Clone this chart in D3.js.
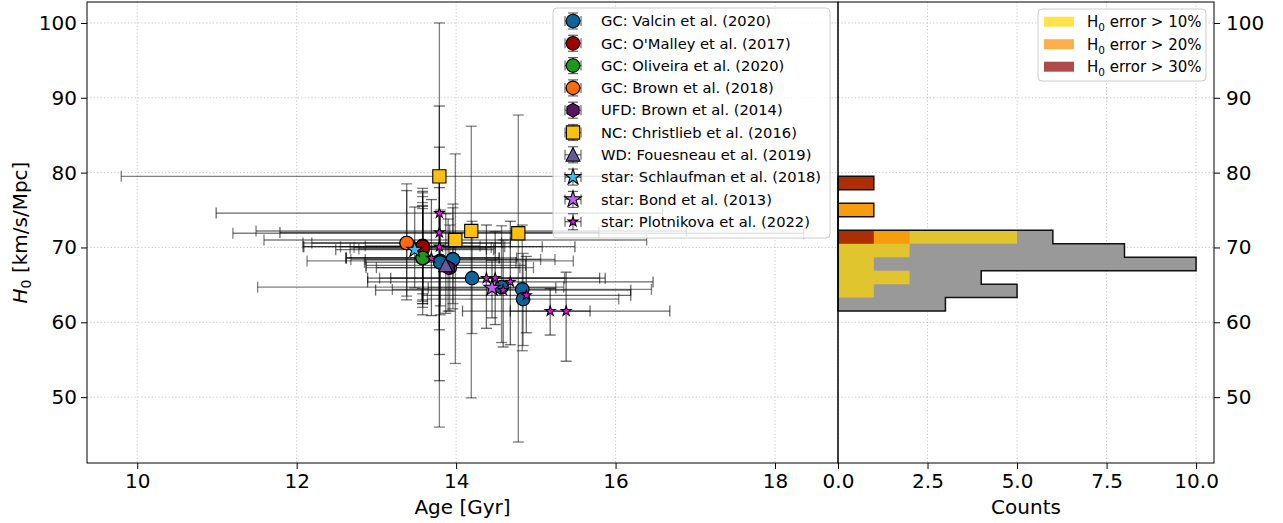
<!DOCTYPE html>
<html><head><meta charset="utf-8">
<script src="https://cdn.jsdelivr.net/npm/d3@7"></script>
<style>
body{margin:0;background:#fff;}
svg{display:block;}
text{font-family:"DejaVu Sans",sans-serif;fill:#000;}
</style>
</head><body>
<svg id="chart" width="1283" height="523"></svg>
<script>
// ---------- DATA ----------
// each row: [age (Gyr), age lower end, age upper end, H0, H0 lower end, H0 upper end]
const valcin = [
  [13.80, 12.13, 15.47, 68.2, 61.0, 75.0],
  [13.96, 12.68, 15.24, 68.4, 62.5, 75.8],
  [13.92, 12.87, 14.97, 67.3, 61.5, 73.0],
  [14.20, 13.04, 15.36, 65.9, 58.5, 73.5],
  [14.57, 11.51, 15.35, 64.7, 57.3, 72.9],
  [14.83, 13.20, 16.45, 64.4, 56.2, 73.0],
  [14.84, 13.64, 16.04, 63.1, 56.9, 69.2],
  [13.38, 12.08, 14.68, 70.6, 63.5, 78.5],
  [13.58, 12.55, 14.61, 70.1, 63.0, 76.8],
  [13.58, 12.67, 14.49, 69.9, 63.8, 76.0],
  [13.58, 12.72, 14.44, 70.0, 64.5, 75.6],
  [13.58, 12.78, 14.38, 69.8, 62.8, 77.3],
  [13.58, 12.86, 14.30, 70.2, 62.5, 77.9],
  [13.58, 12.62, 14.54, 68.6, 62.0, 75.2],
  [13.80, 12.85, 14.75, 68.0, 62.2, 74.6],
  [13.96, 12.86, 15.06, 68.4, 61.8, 75.3]
];
const omalley = [[13.58, 12.08, 15.08, 70.1, 61.0, 77.5]];
const oliveira = [[13.58, 12.62, 14.54, 68.6, 62.5, 75.5]];
const brown2018 = [[13.38, 12.19, 14.57, 70.6, 63.0, 77.6]];
const brown2014 = [[13.90, 13.00, 14.80, 67.3, 61.5, 73.8]];
const christlieb = [
  [13.79, 9.80, 17.78, 79.5, 46.0, 100.0],
  [13.99, 11.59, 16.39, 71.0, 54.5, 82.5],
  [14.19, 11.49, 16.89, 72.2, 49.9, 86.2],
  [14.78, 11.20, 18.36, 71.9, 44.0, 87.7]
];
const fouesneau = [[13.87, 12.87, 14.87, 67.6, 61.2, 74.5]];
const schlaufman = [[13.48, 12.49, 14.47, 69.7, 64.6, 75.4]];
const bond = [[14.45, 13.65, 15.25, 64.6, 60.6, 68.3]];
const plotnikova = [
  [13.79, 10.99, 16.59, 74.6, 59.0, 88.9],
  [13.79, 11.79, 15.79, 72.0, 55.7, 83.4],
  [13.79, 12.09, 15.49, 70.1, 52.2, 78.0],
  [13.69, 12.62, 14.76, 68.6, 60.9, 76.4],
  [14.38, 12.89, 15.87, 65.9, 59.2, 73.0],
  [14.49, 13.18, 15.80, 65.9, 59.7, 72.1],
  [14.68, 12.89, 16.47, 65.4, 57.0, 73.5],
  [14.59, 12.99, 16.19, 64.3, 56.7, 71.0],
  [14.88, 13.57, 16.19, 63.6, 58.6, 68.8],
  [15.18, 14.68, 15.68, 61.5, 58.3, 64.5],
  [15.38, 14.08, 16.68, 61.5, 54.8, 66.7]
];
const seriesLabels = [
  "GC: Valcin et al. (2020)", "GC: O'Malley et al. (2017)", "GC: Oliveira et al. (2020)",
  "GC: Brown et al. (2018)", "UFD: Brown et al. (2014)", "NC: Christlieb et al. (2016)",
  "WD: Fouesneau et al. (2019)", "star: Schlaufman et al. (2018)", "star: Bond et al. (2013)",
  "star: Plotnikova et al. (2022)"
];
// histogram of H0 (horizontal)
const histEdges = [61.5, 63.3, 65.1, 66.9, 68.7, 70.5, 72.3, 74.1, 75.9, 77.7, 79.5];
const countsAll   = [3, 5, 4, 10, 8, 6, 0, 1, 0, 1];
const countsErr10 = [0, 1, 2, 1, 2, 5, 0, 1, 0, 1];
const countsErr20 = [0, 0, 0, 0, 0, 2, 0, 1, 0, 1];
const countsErr30 = [0, 0, 0, 0, 0, 1, 0, 0, 0, 1];
const histLabels = ["10%", "20%", "30%"];
// axes
const ageTicks = [10, 12, 14, 16, 18];
const h0Ticks = [50, 60, 70, 80, 90, 100];
const countTicks = [0, 2.5, 5, 7.5, 10];
const ageDomain = [9.37, 18.79];
const h0Domain = [41.2, 102.8];
const countDomain = [0, 10.5];

// ---------- LAYOUT ----------
const svg = d3.select("#chart");
svg.append("rect").attr("width", 1283).attr("height", 523).attr("fill", "#fff");
const TOP = 2, BOT = 463, LX0 = 87, LX1 = 838, RX0 = 838, RX1 = 1214;
const xL = d3.scaleLinear().domain(ageDomain).range([LX0, LX1]);
const xR = d3.scaleLinear().domain(countDomain).range([RX0, RX1]);
const y = d3.scaleLinear().domain(h0Domain).range([BOT, TOP]);

const datasets = [
  {rows: valcin, color: "#0f6398", shape: "circle", r: 6.8, ea: 0.5},
  {rows: omalley, color: "#a00000", shape: "circle", r: 6.8, ea: 0.55},
  {rows: oliveira, color: "#1c9a1c", shape: "circle", r: 6.8, ea: 0.55},
  {rows: brown2018, color: "#ff6a10", shape: "circle", r: 6.8, ea: 0.55},
  {rows: brown2014, color: "#5a1464", shape: "hexagon", r: 7, ea: 0.55},
  {rows: christlieb, color: "#ffc10c", shape: "square", r: 6.6, ea: 0.5},
  {rows: fouesneau, color: "#665a9a", shape: "triangle", r: 7, ea: 0.55},
  {rows: schlaufman, color: "#33c3f2", shape: "star", r: 8.2, ea: 0.55},
  {rows: bond, color: "#c25ff5", shape: "star", r: 8.6, ea: 0.6},
  {rows: plotnikova, color: "#ff00ff", shape: "star", r: 5.2, ea: 0.6}
];

function shapePath(shape, r) {
  if (shape === "star") {
    const pts = d3.range(10).map(i => {
      const a = -Math.PI / 2 + i * Math.PI / 5, rr = i % 2 ? r * 0.382 : r;
      return [rr * Math.cos(a), rr * Math.sin(a)];
    });
    return "M" + pts.map(p => p.join(",")).join("L") + "Z";
  }
  if (shape === "hexagon") {
    const pts = d3.range(6).map(i => {
      const a = -Math.PI / 2 + i * Math.PI / 3;
      return [r * Math.cos(a), r * Math.sin(a)];
    });
    return "M" + pts.map(p => p.join(",")).join("L") + "Z";
  }
  if (shape === "triangle") return `M0,${-r}L${r},${r * 0.9}L${-r},${r * 0.9}Z`;
  if (shape === "square") return `M${-r},${-r}H${r}V${r}H${-r}Z`;
  return d3.arc()({innerRadius: 0, outerRadius: r, startAngle: 0, endAngle: 2 * Math.PI});
}

// ---------- GRID ----------
const grid = svg.append("g").attr("stroke", "#b8b8b8").attr("stroke-width", 0.8).attr("stroke-dasharray", "1.2,2.2");
ageTicks.forEach(t => grid.append("line").attr("x1", xL(t)).attr("x2", xL(t)).attr("y1", TOP).attr("y2", BOT));
countTicks.forEach(t => grid.append("line").attr("x1", xR(t)).attr("x2", xR(t)).attr("y1", TOP).attr("y2", BOT));
h0Ticks.forEach(t => {
  grid.append("line").attr("x1", LX0).attr("x2", LX1).attr("y1", y(t)).attr("y2", y(t));
  grid.append("line").attr("x1", RX0).attr("x2", RX1).attr("y1", y(t)).attr("y2", y(t));
});

// ---------- ERROR BARS ----------
const cap = 5.5;
datasets.forEach(ds => {
  const eb = svg.append("g").attr("stroke", "#000").attr("stroke-width", 1.3).attr("stroke-opacity", ds.ea);
  ds.rows.forEach(([age, alo, ahi, h, lo, hi]) => {
    const cx = xL(age), cy = y(h), xa = xL(alo), xb = xL(ahi), ya = y(lo), yb = y(hi);
    eb.append("line").attr("x1", xa).attr("x2", xb).attr("y1", cy).attr("y2", cy);
    eb.append("line").attr("x1", xa).attr("x2", xa).attr("y1", cy - cap).attr("y2", cy + cap);
    eb.append("line").attr("x1", xb).attr("x2", xb).attr("y1", cy - cap).attr("y2", cy + cap);
    eb.append("line").attr("x1", cx).attr("x2", cx).attr("y1", ya).attr("y2", yb);
    eb.append("line").attr("x1", cx - cap).attr("x2", cx + cap).attr("y1", ya).attr("y2", ya);
    eb.append("line").attr("x1", cx - cap).attr("x2", cx + cap).attr("y1", yb).attr("y2", yb);
  });
});

// ---------- MARKERS ----------
datasets.forEach(ds => {
  svg.append("g").selectAll("path").data(ds.rows).join("path")
    .attr("transform", d => `translate(${xL(d[0])},${y(d[3])})`)
    .attr("d", shapePath(ds.shape, ds.r))
    .attr("fill", ds.color).attr("stroke", "#000").attr("stroke-width", 1.1);
});

// ---------- HISTOGRAM ----------
function stepPath(counts) {
  let p = `M${xR(0)},${y(histEdges[0])}`;
  counts.forEach((c, i) => {
    p += `L${xR(c)},${y(histEdges[i])}L${xR(c)},${y(histEdges[i + 1])}`;
  });
  p += `L${xR(0)},${y(histEdges[histEdges.length - 1])}Z`;
  return p;
}
const hist = svg.append("g");
hist.append("path").attr("d", stepPath(countsAll)).attr("fill", "#999999");
const histColors = ["#ffd700", "#ff8c00", "#8b0000"];
[countsErr10, countsErr20, countsErr30].forEach((c, i) =>
  hist.append("path").attr("d", stepPath(c)).attr("fill", histColors[i]).attr("fill-opacity", 0.7));
hist.append("path").attr("d", stepPath(countsAll)).attr("fill", "none")
  .attr("stroke", "#111").attr("stroke-width", 1.5).attr("stroke-linejoin", "miter");

// ---------- AXES ----------
const FS = 20;
function styleAxis(g) {
  g.select(".domain").remove();
  g.selectAll(".tick line").attr("stroke", "#000").attr("stroke-width", 1);
  g.selectAll(".tick text").attr("font-size", FS).attr("font-family", "DejaVu Sans");
}
svg.append("g").attr("transform", `translate(0,${BOT})`)
  .call(d3.axisBottom(xL).tickValues(ageTicks).tickFormat(d3.format("d")).tickSize(6).tickPadding(5)).call(styleAxis);
svg.append("g").attr("transform", `translate(0,${BOT})`)
  .call(d3.axisBottom(xR).tickValues(countTicks).tickFormat(d3.format(".1f")).tickSize(6).tickPadding(5)).call(styleAxis);
svg.append("g").attr("transform", `translate(${LX0},0)`)
  .call(d3.axisLeft(y).tickValues(h0Ticks).tickFormat(d3.format("d")).tickSize(6).tickPadding(4)).call(styleAxis);
svg.append("g").attr("transform", `translate(${RX1},0)`)
  .call(d3.axisRight(y).tickValues(h0Ticks).tickFormat(d3.format("d")).tickSize(6).tickPadding(6)).call(styleAxis);

// spines
svg.append("rect").attr("x", LX0).attr("y", TOP).attr("width", LX1 - LX0).attr("height", BOT - TOP)
  .attr("fill", "none").attr("stroke", "#000").attr("stroke-width", 1);
svg.append("rect").attr("x", RX0).attr("y", TOP).attr("width", RX1 - RX0).attr("height", BOT - TOP)
  .attr("fill", "none").attr("stroke", "#000").attr("stroke-width", 1);

// axis labels
svg.append("text").attr("x", (LX0 + LX1) / 2).attr("y", 514).attr("text-anchor", "middle")
  .attr("font-size", FS).text("Age [Gyr]");
svg.append("text").attr("x", (RX0 + RX1) / 2).attr("y", 514).attr("text-anchor", "middle")
  .attr("font-size", FS).text("Counts");
const yl = svg.append("text").attr("transform", `translate(27,${(TOP + BOT) / 2}) rotate(-90)`)
  .attr("text-anchor", "middle").attr("font-size", FS);
yl.append("tspan").attr("font-style", "italic").text("H");
yl.append("tspan").attr("font-size", 14).attr("dy", 4).text("0");
yl.append("tspan").attr("dy", -4).text(" [km/s/Mpc]");

// ---------- LEGEND (scatter) ----------
const LF = 14.7;
const lg = svg.append("g");
lg.append("rect").attr("x", 553).attr("y", 8).attr("width", 277).attr("height", 230).attr("rx", 4)
  .attr("fill", "#fff").attr("fill-opacity", 0.8).attr("stroke", "#cccccc").attr("stroke-width", 1);
datasets.forEach((ds, i) => {
  const cy = 21 + i * 22.3, cx = 573, h = 8, c = 5;
  const g = lg.append("g").attr("stroke", "#000").attr("stroke-width", 1.2).attr("stroke-opacity", 0.6);
  g.append("line").attr("x1", cx - h).attr("x2", cx + h).attr("y1", cy).attr("y2", cy);
  g.append("line").attr("x1", cx).attr("x2", cx).attr("y1", cy - h).attr("y2", cy + h);
  g.append("line").attr("x1", cx - h).attr("x2", cx - h).attr("y1", cy - c).attr("y2", cy + c);
  g.append("line").attr("x1", cx + h).attr("x2", cx + h).attr("y1", cy - c).attr("y2", cy + c);
  g.append("line").attr("x1", cx - c).attr("x2", cx + c).attr("y1", cy - h).attr("y2", cy - h);
  g.append("line").attr("x1", cx - c).attr("x2", cx + c).attr("y1", cy + h).attr("y2", cy + h);
  lg.append("path").attr("transform", `translate(${cx},${cy})`).attr("d", shapePath(ds.shape, ds.r))
    .attr("fill", ds.color).attr("stroke", "#000").attr("stroke-width", 1.1);
  lg.append("text").attr("x", 601).attr("y", cy).attr("dy", "0.36em").attr("font-size", LF).text(seriesLabels[i]);
});

// ---------- LEGEND (histogram) ----------
const hg = svg.append("g");
hg.append("rect").attr("x", 1038).attr("y", 9).attr("width", 168).attr("height", 72).attr("rx", 4)
  .attr("fill", "#fff").attr("fill-opacity", 0.8).attr("stroke", "#cccccc").attr("stroke-width", 1);
histLabels.forEach((lab, i) => {
  const cy = 21.7 + i * 22.5;
  hg.append("rect").attr("x", 1044).attr("y", cy - 5).attr("width", 30).attr("height", 10)
    .attr("fill", histColors[i]).attr("fill-opacity", 0.7);
  const t = hg.append("text").attr("x", 1087).attr("y", cy).attr("dy", "0.36em").attr("font-size", 15);
  t.append("tspan").text("H");
  t.append("tspan").attr("font-size", 10.5).attr("dy", 4).text("0");
  t.append("tspan").attr("dy", -4).text(" error > " + lab);
});
</script>
</body></html>
